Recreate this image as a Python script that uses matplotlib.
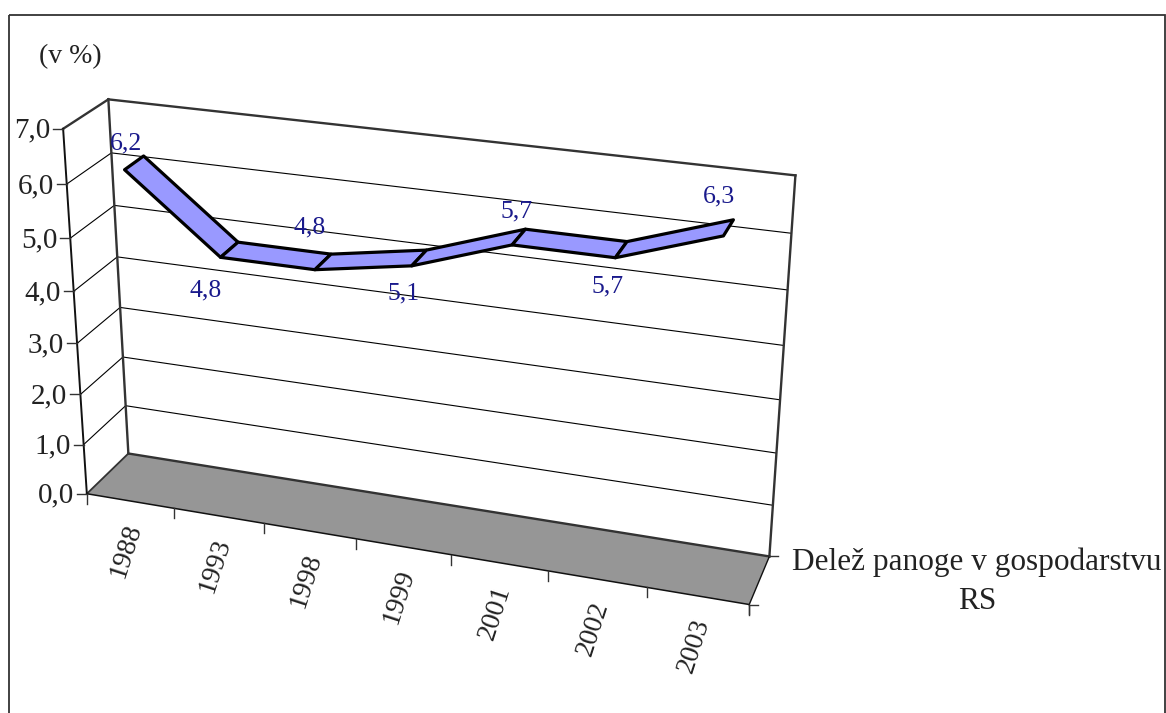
import matplotlib
matplotlib.use("Agg")
import matplotlib.pyplot as plt
from matplotlib.patches import Polygon, Rectangle
import numpy as np

plt.rcParams['font.family'] = ['Liberation Serif', 'DejaVu Serif']

years = ['1988', '1993', '1998', '1999', '2001', '2002', '2003']
share = [6.2, 4.8, 4.8, 5.1, 5.7, 5.7, 6.3]
y_ticks = [0, 1, 2, 3, 4, 5, 6, 7]
unit_label = '(v %)'
series_name = 'Delež panoge v gospodarstvu\nRS'

# box reference points: (category pos, value, depth) -> pixel
box_3d = np.array([
    [0, 0, 0], [1, 0, 0], [0, 0, 1], [1, 0, 1], [0, 7, 1], [1, 7, 1], [0, 7, 0],
    [0, 6, 0], [0, 5, 0], [0, 4, 0], [0, 1, 0],
    [0, 6, 1], [0, 5, 1], [0, 4, 1], [0, 1, 1],
    [1, 6, 1], [1, 5, 1], [1, 4, 1], [1, 3, 1],
    [1/7, 0, 0], [2/7, 0, 0],
], dtype=float)
box_px = np.array([
    [87, 494], [749, 605], [128, 453], [771, 556], [108, 99], [797, 176], [63, 128],
    [67, 184], [71, 238], [74, 292], [83, 445],
    [110, 153], [115, 206], [118, 257], [126, 406],
    [791, 233], [787, 290], [783, 345], [779, 400],
    [174, 508], [264, 523],
], dtype=float)


# least squares fit of the 3x4 camera matrix
def fit_camera(pts, px):
    rows = []
    rhs = []
    for (a, b, c), (x, y) in zip(pts, px):
        rows.append([a, b, c, 1, 0, 0, 0, 0, -x*a, -x*b, -x*c])
        rows.append([0, 0, 0, 0, a, b, c, 1, -y*a, -y*b, -y*c])
        rhs += [x, y]
    m = np.linalg.lstsq(np.array(rows), np.array(rhs), rcond=None)[0]
    return np.append(m, 1).reshape(3, 4)


cam = fit_camera(box_3d, box_px)


def proj(u, v, w):
    h = cam @ np.array([u, v, w, 1.0])
    return h[0]/h[2], h[1]/h[2]


fig = plt.figure(figsize=(11.66, 7.13), dpi=100)
ax = fig.add_axes([0, 0, 1, 1])
ax.set_xlim(0, 1166)
ax.set_ylim(713, 0)
ax.axis('off')

dark = '#333333'
navy = '#1a1a8c'
txt = '#222222'
n = len(years)


def seg(p, q, color='black', lw=1.0, z=2):
    ax.plot([p[0], q[0]], [p[1], q[1]], color=color, lw=lw, zorder=z,
            solid_capstyle='projecting')


# outer frame
ax.add_patch(Rectangle((8.5, 15), 1156.5, 720, fill=False, ec=dark, lw=1.3, zorder=1))

# floor
fl = proj(0, 0, 0)
fr = proj(1, 0, 0)
bl = proj(0, 0, 1)
br = proj(1, 0, 1)
ax.add_patch(Polygon([fl, fr, br, bl], closed=True, fc='#969696', ec='none', zorder=1.5))

# gridlines on the back and side walls
for v in y_ticks[1:-1]:
    seg(proj(0, v, 0), proj(0, v, 1), lw=0.8)
    seg(proj(0, v, 1), proj(1, v, 1), lw=0.8)

# box edges
tl = proj(0, 7, 0)
tbl = proj(0, 7, 1)
tbr = proj(1, 7, 1)
seg(tl, tbl, dark, 1.7, 3)
seg(tbl, tbr, dark, 1.7, 3)
seg(tbl, bl, dark, 1.7, 3)
seg(tbr, br, dark, 1.7, 3)
seg(bl, br, dark, 1.7, 3)
seg(fl, bl, dark, 1.3, 3)
seg(tl, fl, '#111111', 1.4, 3)
seg(fl, fr, '#111111', 1.1, 3)
seg(fr, br, '#111111', 1.0, 3)

# value axis ticks and labels
for v in y_ticks:
    x, y = proj(0, v, 0)
    ax.plot([x-10, x], [y, y], color=dark, lw=1.0, zorder=3)
    ax.text(x-13, y+2, f'{v:.1f}'.replace('.', ','), ha='right', va='center',
            fontsize=21, color=txt)

# category ticks and labels
for i in range(n+1):
    x, y = proj(i/n, 0, 0)
    ax.plot([x, x], [y, y+10], color=dark, lw=1.0, zorder=3)
for i, yr in enumerate(years):
    x, y = proj((i+0.5)/n, 0, 0)
    ax.text(x-4, y+50, yr, rotation=72, ha='center', va='center', fontsize=20,
            color=txt, rotation_mode='anchor')

# series axis ticks and name
for p in (fr, br):
    ax.plot([p[0], p[0]+9], [p[1], p[1]], color=dark, lw=1.0, zorder=3)
ax.plot([fr[0], fr[0]], [fr[1], fr[1]+9], color=dark, lw=1.0, zorder=3)
ax.text(977, 582, series_name, ha='center', va='center', fontsize=22.5, color=txt,
        linespacing=1.45)
ax.text(70, 57, unit_label, ha='center', va='center', fontsize=20, color=txt)

# the ribbon
front = [proj((i+0.5)/n, s, 0.28) for i, s in enumerate(share)]
back = [proj((i+0.5)/n, s, 0.72) for i, s in enumerate(share)]
for i in range(n-1):
    ax.add_patch(Polygon([front[i], front[i+1], back[i+1], back[i]], closed=True,
                         fc='#9999ff', ec='black', lw=2.3, joinstyle='round', zorder=4))

# value labels sit alternately over and under the ribbon
label_dx = [-8, -24, -13, -16, -2, -14, -9]
label_dy = [-19, 41, -34, 36, -26, 37, -31]
for i, s in enumerate(share):
    x, y = proj((i+0.5)/n, s, 0.5)
    ax.text(x+label_dx[i], y+label_dy[i], f'{s:.1f}'.replace('.', ','), ha='center',
            va='center', fontsize=18.5, color=navy, zorder=5)

fig.savefig('out.png', dpi=100)
